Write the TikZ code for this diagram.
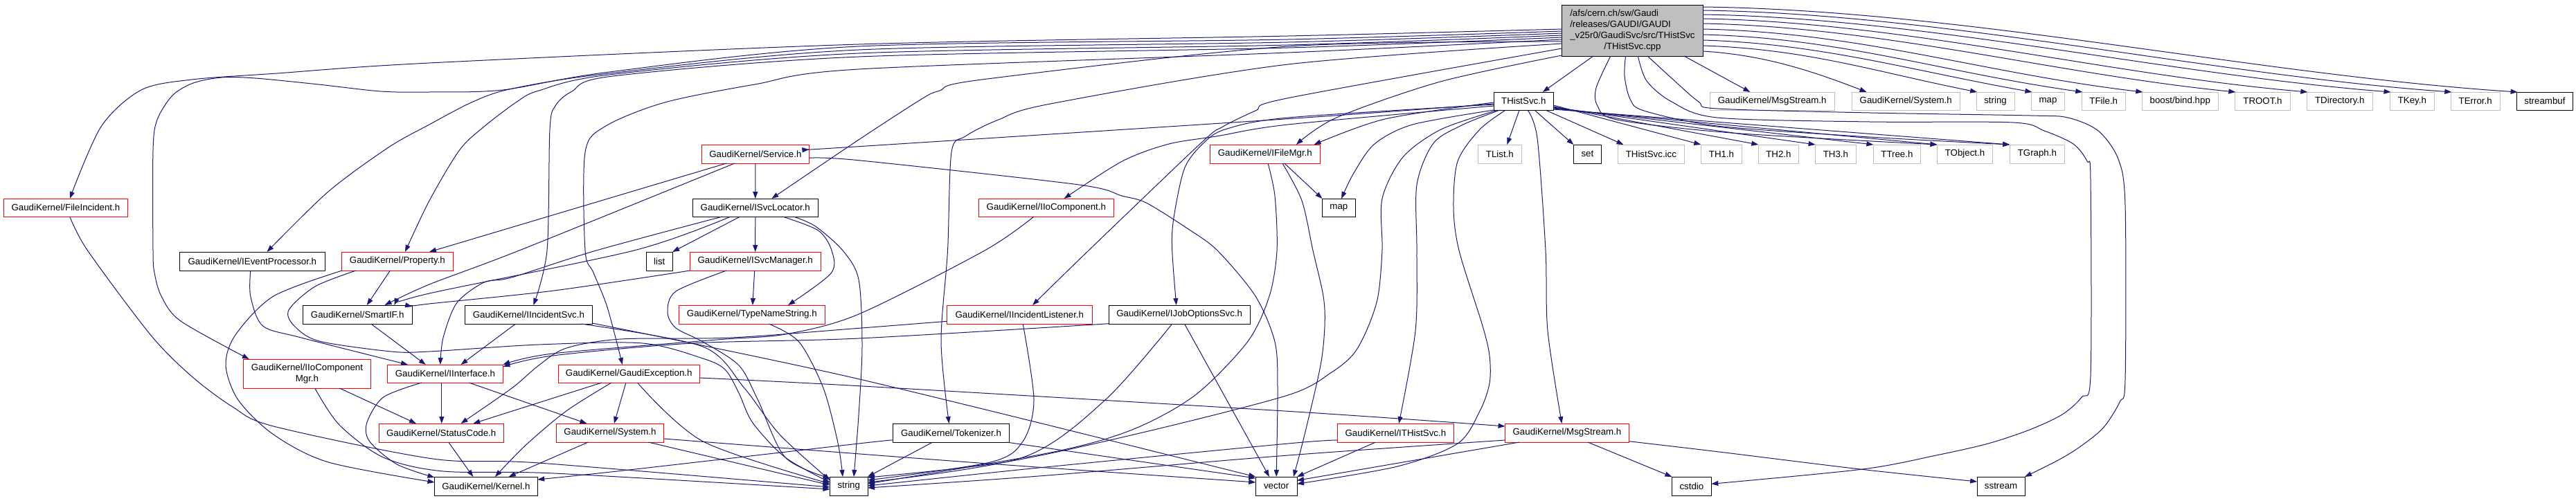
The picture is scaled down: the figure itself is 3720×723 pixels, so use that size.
\documentclass[tikz,border=0pt]{standalone}
\usepackage{fontspec}
\setmainfont{Liberation Sans}
\usetikzlibrary{arrows.meta}
\definecolor{edgec}{HTML}{191970}
\definecolor{ngray}{HTML}{BFBFBF}
\definecolor{nred}{HTML}{FF0000}
\newcommand\dfont{\fontsize{13.3}{15.9}\selectfont}
\newcommand\nd[7]{\node[#1,minimum width={#4-#3},minimum height={#6-#5}] (#2) at ({(#3+#4)/2},{(#5+#6)/2}) {#7};}
\begin{document}
\begin{tikzpicture}[x=1pt,y=-1pt,
  nbase/.style={draw,line width=1pt,fill=white,inner sep=0pt,outer sep=0pt,font=\dfont,text=black},
  nb/.style={nbase,draw=black},
  nr/.style={nbase,draw=nred},
  ng/.style={nbase,draw=ngray},
  nroot/.style={nbase,draw=black,fill=ngray},
  lnk/.style={draw=edgec,line width=1pt,-{Triangle[length=10pt,width=7pt]}}]
\useasboundingbox (0,0) rectangle (3720,723);
% root
\node[nroot,minimum width=204pt,minimum height=74pt] (R) at (2357.4,44) {\begin{tabular}{@{}l@{}}/afs/cern.ch/sw/Gaudi\\/releases/GAUDI/GAUDI\\\_v25r0/GaudiSvc/src/THistSvc\\\multicolumn{1}{@{}c@{}}{/THistSvc.cpp}\end{tabular}};
% row 1
\nd{nb}{H}{2157.3}{2243.2}{133}{159}{THistSvc.h}
\nd{ng}{MSg}{2469}{2649.2}{133}{159}{GaudiKernel/MsgStream.h}
\nd{ng}{SYg}{2674.1}{2830.3}{133}{159}{GaudiKernel/System.h}
\nd{ng}{STg}{2854.1}{2909}{133}{159}{string}
\nd{ng}{MAg}{2933.5}{2981.4}{133}{159}{map}
\nd{ng}{TFile}{3006.3}{3069.2}{133}{159}{TFile.h}
\nd{ng}{boost}{3093.3}{3203.2}{133}{159}{boost/bind.hpp}
\nd{ng}{TROOT}{3227.3}{3307.6}{133}{159}{TROOT.h}
\nd{ng}{TDir}{3331.3}{3426.2}{133}{159}{TDirectory.h}
\nd{ng}{TKey}{3451.5}{3515.2}{133}{159}{TKey.h}
\nd{ng}{TError}{3539.3}{3610.1}{133}{159}{TError.h}
\nd{nb}{SB}{3634.6}{3715.2}{133}{159}{streambuf}
% row 2
\nd{nr}{S}{1013.4}{1168.4}{209}{236}{GaudiKernel/Service.h}
\nd{nr}{FM}{1747.3}{1906.3}{209}{236}{GaudiKernel/IFileMgr.h}
\nd{ng}{TList}{2134.4}{2197.3}{209}{236}{TList.h}
\nd{nb}{set}{2272.4}{2312.3}{209}{236}{set}
\nd{ng}{icc}{2336.5}{2432.2}{209}{236}{THistSvc.icc}
\nd{ng}{TH1}{2456.3}{2515.6}{209}{236}{TH1.h}
\nd{ng}{TH2}{2539.3}{2597.4}{209}{236}{TH2.h}
\nd{ng}{TH3}{2621.6}{2680.1}{209}{236}{TH3.h}
\nd{ng}{TTree}{2705.4}{2773.4}{209}{236}{TTree.h}
\nd{ng}{TObject}{2797.5}{2877.4}{209}{236}{TObject.h}
\nd{ng}{TGraph}{2902.3}{2981.4}{209}{236}{TGraph.h}
% row 3
\nd{nr}{FI}{5.5}{184.3}{287}{313}{GaudiKernel/FileIncident.h}
\nd{nb}{L}{1000.4}{1181.1}{287}{313}{GaudiKernel/ISvcLocator.h}
\nd{nr}{IC}{1413.6}{1608.1}{287}{313}{GaudiKernel/IIoComponent.h}
\nd{nb}{map2}{1909.4}{1957.3}{287}{313}{map}
% row 4
\nd{nb}{E}{259.4}{469.3}{364}{391}{GaudiKernel/IEventProcessor.h}
\nd{nr}{P}{493.4}{654.4}{364}{391}{GaudiKernel/Property.h}
\nd{nb}{list}{933.5}{971.1}{364}{391}{list}
\nd{nr}{M}{996.4}{1185}{364}{391}{GaudiKernel/ISvcManager.h}
% row 5
\nd{nb}{F}{437.3}{595.1}{441}{468}{GaudiKernel/SmartIF.h}
\nd{nb}{N}{671.4}{855.3}{441}{468}{GaudiKernel/IIncidentSvc.h}
\nd{nr}{T}{980.2}{1191.4}{441}{468}{GaudiKernel/TypeNameString.h}
\nd{nr}{IL}{1367.3}{1577.3}{441}{468}{GaudiKernel/IIncidentListener.h}
\nd{nb}{J}{1601.4}{1805}{441}{468}{GaudiKernel/IJobOptionsSvc.h}
% row 6
\nd{nr,align=center}{G}{351.5}{535.4}{519}{561}{GaudiKernel/IIoComponent\\Mgr.h}
\nd{nr}{I}{559.5}{726.4}{527}{553}{GaudiKernel/IInterface.h}
\nd{nr}{X}{806.2}{1010.3}{527}{553}{GaudiKernel/GaudiException.h}
% row 7
\nd{nr}{C}{547.2}{727.2}{612}{639}{GaudiKernel/StatusCode.h}
\nd{nr}{Y}{803.1}{958.9}{612}{639}{GaudiKernel/System.h}
\nd{nb}{K}{1289}{1457.9}{612}{639}{GaudiKernel/Tokenizer.h}
\nd{nr}{Z}{1931.6}{2099.2}{612}{639}{GaudiKernel/ITHistSvc.h}
\nd{nr}{MS}{2173.6}{2352.3}{612}{639}{GaudiKernel/MsgStream.h}
% row 8
\nd{nb}{Kn}{627.5}{776.2}{689}{716}{GaudiKernel/Kernel.h}
\nd{nb}{str}{1198.5}{1253}{689}{716}{string}
\nd{nb}{vec}{1813.3}{1873}{689}{716}{vector}
\nd{nb}{cstdio}{2414.4}{2471.3}{689}{716}{cstdio}
\nd{nb}{sstream}{2855.2}{2924}{689}{716}{sstream}

% ---------- edges from root to row 1
\draw[lnk] ([xshift=-56.5pt]R.south) -- ([xshift=27.5pt]H.north);
\draw[lnk] ([xshift=74.6pt]R.south) -- ([xshift=-31.7pt]MSg.north);
\draw[lnk] ([yshift=-30pt]R.east) .. controls +(80,5) and +(-90,-35) .. ([xshift=-56.7pt]SYg.north);
\draw[lnk] ([yshift=-22pt]R.east) .. controls +(150,5) and +(-150,-30) .. ([xshift=1pt]STg.north west);
\draw[lnk] ([yshift=-14pt]R.east) .. controls +(170,5) and +(-170,-30) .. ([xshift=1pt]MAg.north west);
\draw[lnk] ([yshift=-6pt]R.east) .. controls +(200,5) and +(-200,-28) .. ([xshift=1pt]TFile.north west);
\draw[lnk] ([yshift=2pt]R.east) .. controls +(230,5) and +(-230,-27) .. ([xshift=1pt]boost.north west);
\draw[lnk] ([yshift=10pt]R.east) .. controls +(260,5) and +(-260,-26) .. ([xshift=1pt]TROOT.north west);
\draw[lnk] ([yshift=17pt]R.east) .. controls +(290,5) and +(-290,-25) .. ([xshift=1pt]TDir.north west);
\draw[lnk] ([yshift=23pt]R.east) .. controls +(320,5) and +(-320,-25) .. ([xshift=1pt]TKey.north west);
\draw[lnk] ([yshift=29pt]R.east) .. controls +(350,5) and +(-350,-25) .. ([xshift=1pt]TError.north west);
\draw[lnk] ([yshift=34pt]R.east) .. controls +(380,5) and +(-380,-25) .. ([xshift=1pt]SB.north west);
% ---------- root bottom curves
\draw[lnk] plot[smooth,tension=.5] coordinates {([xshift=-31.6pt]R.south) (2305,127) (2307,153) (2335,173) (2500,192) (TObject.north west)};
\draw[lnk] plot[smooth,tension=.5] coordinates {([xshift=-9.9pt]R.south) (2346,110) (2354,143) (2374,160) (2480,182) (2700,198) (TGraph.north west)};
\draw[lnk] plot[smooth,tension=.5] coordinates {([xshift=7.9pt]R.south) (2378,117) (2414,147) (2480,170) (2700,176) (2907,177) (2952,189) (2994,208) (3014,233) (3019,260) (3019,543) (3006,574) (2978,599) (2931,621) (2871,641) (2796,658) (2690,678) ([yshift=3.2pt]cstdio.east)};
\draw[lnk] plot[smooth,tension=.5] coordinates {([xshift=21.8pt]R.south) (2414,113) (2453,147) (2480,157) (2700,163) (2932,167) (2986,170) (3030,189) (3059,230) (3069,297) (3069,548) (3061,581) (3037.5,618) (3006,644) (2974,664) (sstream.north east)};
% ---------- root left edges
\draw[lnk] plot[smooth,tension=.5] coordinates {([yshift=2pt]R.west) (1860,52) (1240,64) (620,91) (400,106) (277,115) (204,130) (146,183) ([xshift=5.9pt]FI.north)};
\draw[lnk] plot[smooth,tension=.5] coordinates {([yshift=-1pt]R.west) (1860,57) (1240,67) (880,104) (726,130) (620,133) (550,132) (460,122) (369,113) (320,112) (279,120) (249,138) (227,173) (221,217) (221,362) (223,394) (233,428) (261,464) ([xshift=-83.65pt]G.north)};
\draw[lnk] plot[smooth,tension=.5] coordinates {([yshift=-4pt]R.west) (1860,61) (1240,72) (880,106) (740,128) (683,147) (620,180) (561,213) (474,277) ([xshift=21.15pt]E.north)};
\draw[lnk] plot[smooth,tension=.5] coordinates {([yshift=-7pt]R.west) (1860,65) (1240,77) (880,108) (778,131) (746.5,147) (699,183) (663.5,217) (620,290) ([xshift=11.1pt]P.north)};
\draw[lnk] plot[smooth,tension=.5] coordinates {([yshift=-10pt]R.west) (1860,69) (1240,82) (885,110) (826,132) (802,153) (794,187) (790,362) ([xshift=6.95pt]N.north)};
\draw[lnk] plot[smooth,tension=.5] coordinates {([yshift=-13pt]R.west) (1860,76) (1240,100) (1090,122) (960,148) (875,182) (845,220) (845,362) (857,394) (877,444) ([xshift=-9.45pt]X.north)};
\draw[lnk] plot[smooth,tension=.5] coordinates {([yshift=-16pt]R.west) (1860,67) (1418,115) (1357,131) (1331,143) (1240,202) ([xshift=23.55pt]L.north)};
\draw[lnk] plot[smooth,tension=.5] coordinates {([yshift=-19pt]R.west) (1860,93) (1517,150) (1442,173) (1394,197) (1374,220) (1368.5,362) (1359,494) ([xshift=-2.95pt]K.north)};
\draw[lnk] plot[smooth,tension=.5] coordinates {([yshift=-26pt]R.west) (1860,141.7) (1813,160) (1766,183) (1734,207) (1572,362) ([xshift=18.7pt]IL.north)};
\draw[lnk] plot[smooth,tension=.5] coordinates {([yshift=-36pt]R.west) (2080,118) (1930,170) ([xshift=45.1pt]FM.north)};
% ---------- THistSvc.h edges
\draw[lnk] ([xshift=-6.15pt]H.south) -- ([xshift=10.45pt]TList.north);
\draw[lnk] ([xshift=15.65pt]H.south) -- (set.north west);
\draw[lnk] ([xshift=31.45pt]H.south) -- ([xshift=8pt]icc.north west);
\draw[lnk] ([yshift=-6pt]H.east) -- (TH1.north west);
\draw[lnk] ([yshift=-8pt]H.east) -- (TH2.north west);
\draw[lnk] ([yshift=-9pt]H.east) -- (TH3.north west);
\draw[lnk] ([yshift=-10pt]H.east) -- (TTree.north west);
\draw[lnk] ([yshift=-11pt]H.east) -- (TObject.north west);
\draw[lnk] ([yshift=-12pt]H.east) -- (TGraph.north west);
\draw[lnk] plot[smooth,tension=.5] coordinates {([yshift=-4pt]H.west) (1860,171.7) (1240,211.7) ([yshift=6.5pt]S.east)};
\draw[lnk] plot[smooth,tension=.5] coordinates {([yshift=-2pt]H.west) (2000,172) ([xshift=70.8pt]FM.north)};
\draw[lnk] plot[smooth,tension=.5] coordinates {([yshift=-7pt]H.west) (1860,180) (1758,196.7) (1687,208.3) (1620,233.3) ([xshift=25.75pt]IC.north)};
\draw[lnk] plot[smooth,tension=.5] coordinates {([yshift=-5pt]H.west) (1860,170) (1770,186.7) (1738,206.7) (1710.5,243.3) (1694.7,316.7) (1692.7,361.7) ([xshift=-4.5pt]J.north)};
\draw[lnk] plot[smooth,tension=.5] coordinates {(H.south west) (2040,180) (1985,208) (1955,250) ([xshift=3.75pt]map2.north)};
\draw[lnk] plot[smooth,tension=.5] coordinates {([xshift=-34.25pt]H.south) (2113,180) (2070,207) (2046,267) (2046,362) (2044,478) ([xshift=4.7pt]Z.north)};
\draw[lnk] plot[smooth,tension=.5] coordinates {([xshift=-37.25pt]H.south) (2081,187) (2026,227) (1996,287) (1996,361) (1990,428) (1975,474) (1955,511) (1923,538) (1860,571) (1650,625) (1450,668) ([yshift=12.5pt]str.east)};
\draw[lnk] plot[smooth,tension=.5] coordinates {([xshift=-25.95pt]H.south) (2137,187) (2105,233) (2099,300) (2107,362) (2141,471) (2151,514) (2151,554) (2137,594) (2105,641) (2018,674) ([yshift=3.2pt]vec.east)};
\draw[lnk] plot[smooth,tension=.5] coordinates {([xshift=5.75pt]H.south) (2220,200) (2232,362) (2235,478) ([xshift=-7.55pt]MS.north)};
% ---------- Service.h / ISvcLocator.h / ISvcManager.h
\draw[lnk] (S.south) -- (L.north);
\draw[lnk] ([xshift=-41.9pt]S.south) -- ([xshift=46.1pt]P.north);
\draw[lnk] plot[smooth,tension=.5] coordinates {([xshift=-30pt]S.south) (750.5,361.7) (620,411) ([xshift=39.3pt]F.north)};
\draw[lnk] plot[smooth,tension=.5] coordinates {([yshift=-5.8pt]S.east) (1240,231.7) (1556,266.7) (1620,283) (1655,293) (1714.5,330) (1758,362) (1813,428) (1841,494) (1845,561) (vec.north)};
\draw[lnk] (L.south) -- (M.north);
\draw[lnk] ([xshift=-21.95pt]L.south) -- (list.north east);
\draw[lnk] plot[smooth,tension=.5] coordinates {([xshift=-35.75pt]L.south) (916.6,361.7) (620,424) ([xshift=53.2pt]F.north)};
\draw[lnk] plot[smooth,tension=.5] coordinates {([xshift=-47.75pt]L.south) (861,362) (738.6,401) (699,408) (659.5,438) (640,488) ([xshift=-7.15pt]I.north)};
\draw[lnk] plot[smooth,tension=.5] coordinates {([xshift=39.25pt]L.south) (1181.5,333) (1201,362) (1200,395) ([xshift=52.2pt]T.north)};
\draw[lnk] plot[smooth,tension=.5] coordinates {([xshift=55.25pt]L.south) (1177.5,327) (1217,362) (1240,404) (1245,500) (1240,600) ([xshift=7.25pt]str.north)};
\draw[lnk] ([xshift=-1pt]M.south) -- ([xshift=1pt]T.north);
\draw[lnk] plot[smooth,tension=.5] coordinates {(M.south west) (800,420) (620,439) ([yshift=11.5pt]F.east)};
\draw[lnk] plot[smooth,tension=.5] coordinates {([xshift=-41.7pt]M.south) (976,421) (964,451) (976,474) (1015,494) (1067,528) (1094.5,578) (1134,661) ([yshift=11.5pt]str.west)};
\draw[lnk] plot[smooth,tension=.5] coordinates {([xshift=24.5pt]T.south) (1153.8,494) (1189,561) (1210,640) ([xshift=-8.75pt]str.north)};
% ---------- IIncidentSvc.h
\draw[lnk] ([xshift=-18.75pt]N.south) -- ([xshift=22.55pt]I.north);
\draw[lnk] plot[smooth,tension=.5] coordinates {([xshift=76pt]N.south) (1015,501) (1075,561) (1126,628) ([yshift=8.5pt]str.west)};
\draw[lnk] plot[smooth,tension=.5] coordinates {([yshift=-12.5pt]N.east) (1240,547.7) (vec.north west)};
% ---------- Property.h / IEventProcessor.h / SmartIF.h / IIoComponentMgr.h / FileIncident.h
\draw[lnk] ([xshift=-10.5pt]P.south) -- ([xshift=13.6pt]F.north);
\draw[lnk] plot[smooth,tension=.5] coordinates {([xshift=-59.9pt]P.south) (455,414) (417,448) (425,471) (461,493) (565,508) (620,508) (778,498) (928,496) (1015,518) (1047,534) (1067,568) (1087,611) (1134,661) ([yshift=5.5pt]str.west)};
\draw[lnk] plot[smooth,tension=.5] coordinates {([xshift=-79.9pt]P.south) (395,428) (340,484) (326,528) (344,578) (395,628) (474.5,668) ([yshift=5.5pt]Kn.west)};
\draw[lnk] plot[smooth,tension=.5] coordinates {([xshift=-2.55pt]E.south) (361.8,428) (379.6,471) (435,488) ([xshift=-53.85pt]I.north)};
\draw[lnk] ([xshift=19.6pt]F.south) -- ([xshift=-28.15pt]I.north);
\draw[lnk] ([xshift=46.85pt]G.south) -- ([xshift=-36.2pt]C.north);
\draw[lnk] plot[smooth,tension=.5] coordinates {([xshift=11.25pt]G.south) (490,614) (553.6,661) (640,681) (800,684) ([yshift=-4.5pt]str.west)};
\draw[lnk] plot[smooth,tension=.5] coordinates {([xshift=5.9pt]FI.south) (126.5,362) (217.5,484) (277,544) (336,588) (395,616) (625,663) (778,669) ([yshift=-1.5pt]str.west)};
% ---------- IInterface.h / GaudiException.h / StatusCode.h / System.h
\draw[lnk] ([xshift=-5.15pt]I.south) -- ([xshift=0.6pt]C.north);
\draw[lnk] ([xshift=34.35pt]I.south) -- ([xshift=-33.6pt]Y.north);
\draw[lnk] plot[smooth,tension=.5] coordinates {([xshift=-34.05pt]I.south) (553.6,574) (529.8,611) (533.8,638) (573.3,671) ([yshift=12.5pt]Kn.west)};
\draw[lnk] ([xshift=-4.35pt]X.south) -- ([xshift=5.9pt]Y.north);
\draw[lnk] ([xshift=-39.25pt]X.south) -- ([xshift=46.1pt]C.north);
\draw[lnk] plot[smooth,tension=.5] coordinates {([xshift=-25.25pt]X.south) (817.7,594) (758.4,644) ([xshift=13.05pt]Kn.north)};
\draw[lnk] plot[smooth,tension=.5] coordinates {([xshift=12.25pt]X.south) (1015.4,638) ([yshift=3.5pt]str.west)};
\draw[lnk] plot[smooth,tension=.5] coordinates {([yshift=-6pt]X.east) (1240,557.7) (1860,594.3) ([yshift=9.5pt]MS.west)};
\draw[lnk] ([xshift=10.5pt]C.south) -- ([xshift=-18.55pt]Kn.north);
\draw[lnk] ([xshift=-31.7pt]Y.south) -- ([xshift=32.85pt]Kn.north);
\draw[lnk] ([xshift=55.3pt]Y.south) -- ([yshift=1.5pt]str.west);
\draw[lnk] plot[smooth,tension=.5] coordinates {([yshift=-8.5pt]Y.east) (1400,668) ([yshift=5.5pt]vec.west)};
% ---------- IIoComponent.h / IIncidentListener.h / IJobOptionsSvc.h
\draw[lnk] plot[smooth,tension=.5] coordinates {([xshift=-17.85pt]IC.south) (1422,362) (1240,454) (1134,483) (1035,491) (798,511) (I.north east)};
\draw[lnk] plot[smooth,tension=.5] coordinates {([yshift=-9.8pt]IL.west) (1240,474.3) (1055,488) (897,490) (818,503) (778,528) (739,561) ([xshift=28.3pt]C.north)};
\draw[lnk] plot[smooth,tension=.5] coordinates {([yshift=-13.2pt]J.west) (1240,489) (1000,496) (798,514) ([yshift=-3pt]I.north east)};
\draw[lnk] plot[smooth,tension=.5] coordinates {([xshift=4.9pt]IL.south) (1493,578) (1477,638) (1430,668) ([yshift=8.5pt]str.east)};
\draw[lnk] plot[smooth,tension=.5] coordinates {([xshift=-10.5pt]J.south) (1596,578) (1477,661) ([yshift=5.5pt]str.east)};
\draw[lnk] ([xshift=7.3pt]J.south) -- ([xshift=-10.15pt]vec.north);
% ---------- Tokenizer.h
\draw[lnk] plot[smooth,tension=.5] coordinates {([yshift=-10.5pt]K.west) (1240,641) (900,680) ([yshift=9.5pt]Kn.east)};
\draw[lnk] ([xshift=-26.65pt]K.south) -- (str.north east);
\draw[lnk] ([xshift=80.05pt]K.south) -- ([yshift=11.5pt]vec.west);
% ---------- IFileMgr.h
\draw[lnk] plot[smooth,tension=.5] coordinates {([xshift=4.2pt]FM.south) (1841,283) (1844,362) (1833,428) (1801.5,494) (1726,571) (1635,621) (1517,654) ([yshift=3.5pt]str.east)};
\draw[lnk] plot[smooth,tension=.5] coordinates {([xshift=25.2pt]FM.south) (1880,290) (1896,362) (1911,428) (1913,471) (1907,528) (1884,628) ([xshift=24.85pt]vec.north)};
\draw[lnk] ([xshift=28pt]FM.south) -- (map2.north west);
% ---------- ITHistSvc.h / MsgStream.h
\draw[lnk] ([xshift=-28.9pt]Z.south) -- (vec.north east);
\draw[lnk] plot[smooth,tension=.5] coordinates {([yshift=-10.5pt]Z.west) (1860,641) (1500,676) ([yshift=0.5pt]str.east)};
\draw[lnk] plot[smooth,tension=.5] coordinates {([yshift=-10.5pt]MS.west) (1860,658) (1500,688) ([yshift=-2.5pt]str.east)};
\draw[lnk] ([xshift=-68.85pt]MS.south) -- ([yshift=8.2pt]vec.east);
\draw[lnk] ([xshift=30.05pt]MS.south) -- (cstdio.north west);
\draw[lnk] plot[smooth,tension=.5] coordinates {([yshift=-12.2pt]MS.east) (2480,652.7) (2686,678) ([yshift=6.5pt]sstream.west)};
\end{tikzpicture}
\end{document}
